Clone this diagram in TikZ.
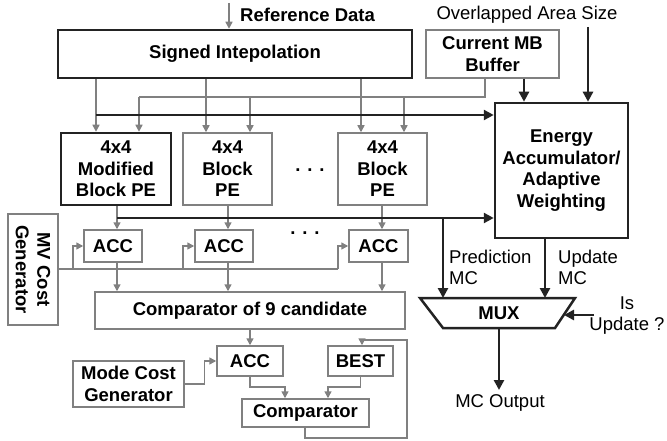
\documentclass[tikz,border=0pt]{standalone}
\usepackage{fontspec}
\setmainfont{Liberation Sans}
\usetikzlibrary{arrows.meta,calc}
\definecolor{lgray}{RGB}{128,128,128}
\definecolor{dblack}{RGB}{35,35,35}
\begin{document}
\begin{tikzpicture}[x=1pt,y=-1pt,
  font=\fontsize{18.5}{21.5}\selectfont,
  gline/.style={draw=lgray, line width=1.5pt},
  bline/.style={draw=dblack, line width=2.5pt},
  garrow/.style={gline, -{Triangle[length=7pt,width=7pt]}},
  barrow/.style={bline, -{Triangle[length=10pt,width=10pt]}},
  gbox/.style={draw=lgray, line width=1.5pt, align=center, inner sep=0pt, font=\fontsize{18.5}{21.5}\selectfont\bfseries},
  bbox/.style={draw=dblack, line width=2.5pt, align=center, inner sep=0pt, font=\fontsize{18.5}{21.5}\selectfont\bfseries},
  lbl/.style={inner sep=0pt, align=center, text=black},
  lbll/.style={inner sep=0pt, align=left, anchor=west, text=black},
]
\useasboundingbox (0,0) rectangle (667,441);

% ---- boxes ----
\node[bbox, minimum width=354, minimum height=48] (sig) at (235,54) {Signed Intepolation};
\node[gbox, minimum width=133, minimum height=48] (cmb) at (492.5,54) {Current MB\\Buffer};
\node[bbox, minimum width=110, minimum height=72] (pe1) at (116,169) {4x4\\Modified\\Block PE};
\node[gbox, minimum width=89, minimum height=72] (pe2) at (227.5,169) {4x4\\Block\\PE};
\node[gbox, minimum width=89, minimum height=72] (pe3) at (382.5,169) {4x4\\Block\\PE};
\node[bbox, minimum width=133, minimum height=135] (en) at (561.5,170.5) {Energy\\Accumulator/\\Adaptive\\Weighting};
\node[gbox, minimum width=58, minimum height=32] (acc1) at (113,246) {ACC};
\node[gbox, minimum width=58, minimum height=32] (acc2) at (224,246) {ACC};
\node[gbox, minimum width=59, minimum height=32] (acc3) at (378.5,246) {ACC};
\node[gbox, minimum width=50, minimum height=111] (mv) at (33,269.5) {};
\node[lbl, rotate=-90, font=\fontsize{18.5}{21.5}\selectfont\bfseries] (mvt) at (33,269.5) {MV Cost\\Generator};
\node[gbox, minimum width=310, minimum height=37] (cmp9) at (250,310.5) {Comparator of 9 candidate};
\node[gbox, minimum width=66, minimum height=30] (acc4) at (250,361) {ACC};
\node[gbox, minimum width=65, minimum height=30] (best) at (360.5,361) {BEST};
\node[gbox, minimum width=111, minimum height=46] (mode) at (128.5,384) {Mode Cost\\Generator};
\node[gbox, minimum width=127, minimum height=28] (cmp) at (305.5,413) {Comparator};

% MUX
\coordinate (mtl) at (420,298);
\coordinate (mtr) at (575,298);
\coordinate (mbr) at (555,328);
\coordinate (mbl) at (443,328);
\draw[bline, line join=miter] (mtl) -- (mtr) -- (mbr) -- (mbl) -- cycle;
\node[lbl, font=\fontsize{18.5}{21.5}\selectfont\bfseries] (mux) at (499,313) {MUX};

% ---- labels ----
\node[lbll, font=\fontsize{18.5}{21.5}\selectfont\bfseries] (rdt) at (240,15) {Reference Data};
\node[lbl] (oas) at (527,15) {Overlapped Area Size};
\node[lbll] (pmc) at (449,267.5) {Prediction\\MC};
\node[lbll] (umc) at (558,267.5) {Update\\MC};
\node[lbl] (isu) at (627,315.5) {Is\\Update ?};
\node[lbl] (mco) at (500,403) {MC Output};
\node[lbl, font=\fontsize{18.5}{21.5}\selectfont\bfseries] (dots1) at (310,170) {. . .};
\node[lbl, font=\fontsize{18.5}{21.5}\selectfont\bfseries] (dots2) at (305,233) {. . .};

% ---- helper coordinates ----
\coordinate (a1) at (96,0);  \coordinate (a2) at (206,0); \coordinate (a3) at (361,0);
\coordinate (b1) at (139,0); \coordinate (b2) at (250,0); \coordinate (b3) at (404,0);
\coordinate (p1) at (117,0); \coordinate (p2) at (228,0); \coordinate (p3) at (382,0);
\coordinate (cm) at (485,0);
\coordinate (hy) at (0,97);
\coordinate (by) at (0,115);
\coordinate (ly) at (0,218);
\coordinate (my) at (0,269);
\coordinate (m1) at (73,0); \coordinate (m2) at (183,0); \coordinate (m3) at (338,0);
\coordinate (rd) at (229,3);
\coordinate (ox) at (588,27);
\coordinate (cx) at (524,0);
\coordinate (pm) at (443,0);
\coordinate (um) at (545,0);
\coordinate (iu) at (594,315);
\coordinate (iut) at (564,315);
\coordinate (mo) at (499,390);
\coordinate (q1) at (285,387);
\coordinate (q2) at (328,387);
\coordinate (fb1) at (305,438);
\coordinate (fb2) at (407,340);
\coordinate (fb3) at (362,340);

% ---- gray connectors ----
\draw[garrow] (rd) -- (rd |- sig.north);
\foreach \a/\p in {a1/pe1,a2/pe2,a3/pe3}{
  \draw[garrow] (sig.south -| \a) -- (\p.north -| \a);
}
\draw[gline] (cmb.south -| cm) -- (cm |- hy) -- (b1 |- hy);
\foreach \b/\p in {b1/pe1,b2/pe2,b3/pe3}{
  \draw[garrow] (\b |- hy) -- (\p.north -| \b);
}
\foreach \p/\q/\r in {p1/pe1/acc1,p2/pe2/acc2,p3/pe3/acc3}{
  \draw[garrow] (\q.south -| \p) -- (\r.north -| \p);
  \draw[garrow] (\r.south -| \p) -- (cmp9.north -| \p);
}
\draw[gline] (mv.east |- my) -- (m3 |- my);
\foreach \m/\r in {m1/acc1,m2/acc2,m3/acc3}{
  \draw[garrow] (\m |- my) |- (\r.west);
}
\draw[garrow] (cmp9.south -| acc4) -- (acc4.north);
\draw[garrow] (mode.east) -| ($(acc4.west)+(-12,0)$) -- (acc4.west);
\draw[garrow] (acc4.south) |- (q1) -- (q1 |- cmp.north);
\draw[garrow] (best.south) |- (q2) -- (q2 |- cmp.north);
\draw[garrow] (cmp.south -| fb1) -- (fb1) -| (fb2) -- (fb3) -- (fb3 |- best.north);

% ---- black connectors ----
\draw[barrow] (a1 |- by) -- (en.west |- by);
\draw[barrow] (p1 |- ly) -- (en.west |- ly);
\draw[barrow] (ox) -- (ox |- en.north);
\draw[barrow] (cmb.south -| cx) -- (en.north -| cx);
\draw[barrow] (pm |- ly) -- (pm |- mtl);
\draw[barrow] (en.south -| um) -- (um |- mtl);
\draw[barrow] (iu) -- (iut);
\draw[barrow] (mux |- mbl) -- (mo);
\end{tikzpicture}
\end{document}
